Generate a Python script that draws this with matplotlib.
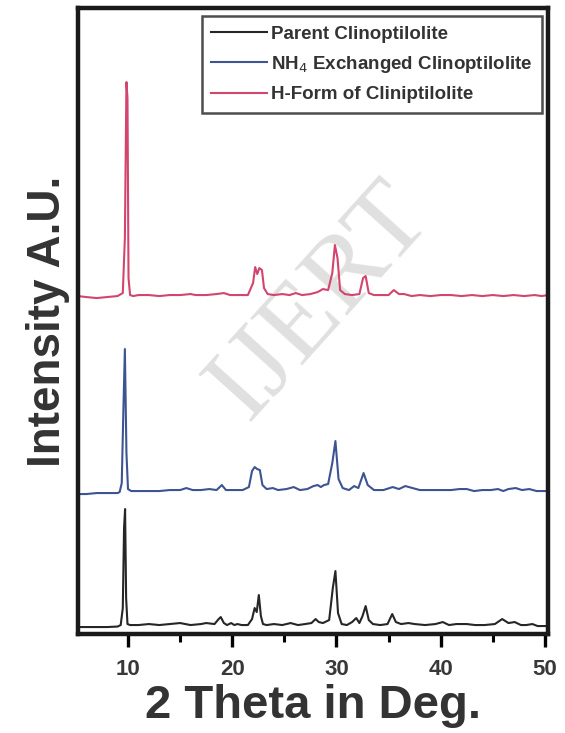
import matplotlib
matplotlib.use("Agg")
from matplotlib import pyplot as plt
from matplotlib.ticker import MultipleLocator
import numpy as np

plt.rcParams['font.family'] = ['Liberation Sans', 'DejaVu Sans']

# XRD patterns (2 theta in deg, intensity above own baseline)
parent_2theta = [5.2, 6, 7, 8, 9, 9.3, 9.5, 9.62, 9.72, 9.82, 9.95, 10.2, 11, 12, 13, 14, 15, 16, 17, 17.5,
                 18.3, 18.7, 18.9, 19.2, 19.5, 19.9, 20.2, 20.5, 20.9, 21.5, 21.9, 22.15, 22.35, 22.55, 22.75,
                 22.95, 23.3, 24, 24.8, 25.6, 26.3, 27, 27.6, 28.0, 28.3, 28.7, 29.3, 29.65, 29.9, 30.15, 30.5,
                 31.0, 31.5, 31.9, 32.2, 32.5, 32.8, 33.1, 33.5, 34.2, 34.9, 35.35, 35.7, 36.2, 36.9, 37.5, 38.5,
                 39.5, 40.2, 40.8, 41.5, 42.5, 43.3, 44.2, 45.2, 45.9, 46.5, 47.1, 47.7, 48.2, 48.8, 49.3, 50.3]
parent_int = [1, 1, 1, 1, 1.5, 3, 20, 100, 119, 30, 4, 3, 3, 4, 3, 4, 5, 3, 4, 5,
              4, 9, 11, 5, 3, 5, 3, 4, 3, 3, 9, 20, 16, 33, 12,
              4, 3, 4, 3, 5, 3, 4, 5, 9, 6, 5, 8, 40, 57, 15, 4,
              3, 6, 10, 5, 12, 22, 8, 4, 3, 4, 14, 6, 4, 5, 4, 3,
              4, 6, 3, 4, 4, 3, 3, 4, 9, 5, 6, 3, 3, 4, 2, 2]

nh4_2theta = [5.2, 6, 7, 8, 9, 9.2, 9.4, 9.55, 9.7, 9.85, 10.0, 10.3, 11, 12, 13, 14, 15, 15.6, 16.2, 17,
              17.8, 18.5, 19.0, 19.4, 20, 21, 21.6, 21.9, 22.15, 22.4, 22.65, 22.9, 23.3, 23.9, 24.4, 25.2,
              25.9, 26.5, 27.2, 27.8, 28.2, 28.5, 28.8, 29.2, 29.6, 29.9, 30.2, 30.6, 31.2, 31.7, 32.1, 32.6,
              33.0, 33.6, 34.5, 35.4, 36.0, 36.6, 37.3, 38, 39, 40, 41, 41.8, 42.5, 43.2, 44, 44.8, 45.5, 46,
              46.5, 47.2, 47.8, 48.5, 49.2, 50.3]
nh4_int = [-1, -1, 0, 0, 0, 1, 10, 80, 144, 40, 4, 2, 2, 2, 2, 3, 3, 5, 3, 3,
           4, 3, 8, 3, 3, 3, 6, 22, 26, 24, 23, 8, 4, 5, 3, 4,
           6, 3, 4, 7, 8, 6, 8, 9, 30, 52, 14, 5, 3, 7, 5, 20,
           8, 3, 3, 6, 4, 7, 5, 3, 3, 3, 3, 4, 4, 2, 3, 3, 4, 2,
           4, 5, 3, 4, 2, 2]

h_2theta = [5.2, 6, 7, 8, 9, 9.5, 9.7, 9.85, 9.95, 10.05, 10.2, 10.5, 11, 12, 13, 14, 15, 16, 16.5, 17.5,
            18.5, 19.2, 19.8, 20.5, 21.5, 22.0, 22.2, 22.4, 22.6, 22.85, 23.05, 23.4, 24, 24.8, 25.5, 26.1,
            26.7, 27.5, 28.2, 28.7, 29.2, 29.6, 29.85, 30.1, 30.35, 30.8, 31.5, 32.2, 32.55, 32.8, 33.1, 33.6,
            34.5, 35.0, 35.5, 36.0, 36.5, 37.2, 38, 39, 40, 41, 42, 43, 44, 45, 46, 47, 48, 49, 49.7, 50.3]
h_int = [2, 1, 0, 1, 2, 5, 60, 216, 200, 20, 3, 2, 3, 3, 2, 3, 3, 4, 3, 3,
         4, 5, 3, 3, 3, 15, 31, 24, 30, 28, 10, 4, 3, 4, 3, 5,
         3, 4, 6, 9, 8, 25, 53, 40, 8, 4, 3, 4, 20, 22, 5, 3,
         3, 3, 8, 4, 4, 2, 3, 2, 3, 3, 2, 3, 2, 3, 2, 3, 2, 3, 2, 3]

labels = ['Parent Clinoptilolite', 'NH$_4$ Exchanged Clinoptilolite', 'H-Form of Cliniptilolite']
offsets = [0, 135, 330]
colors = ['#262626', '#3d5493', '#d2456e']

fig = plt.figure(figsize=(5.65, 7.33), dpi=100)
ax = fig.add_axes([0.138, 0.135, 0.832, 0.854])

series = [(parent_2theta, parent_int), (nh4_2theta, nh4_int), (h_2theta, h_int)]
for (tt, inten), off, c, lab in zip(series, offsets, colors, labels):
    ax.plot(tt, np.array(inten) + off, color=c, lw=1.5, label=lab)

ax.set_xlim(5.2, 50.3)
ax.set_ylim(-6, 620)
ax.xaxis.set_major_locator(MultipleLocator(10))
ax.xaxis.set_minor_locator(MultipleLocator(5))
ax.set_yticks([])
ax.tick_params(axis='x', which='major', direction='out', length=9, width=2.4, labelsize=16,
               labelcolor='#383838', pad=9)
ax.tick_params(axis='x', which='minor', direction='out', length=6, width=2.2)
for lbl in ax.get_xticklabels():
    lbl.set_fontweight('bold')
for s in ax.spines.values():
    s.set_linewidth(3.2)
    s.set_color('#1a1a1a')

ax.set_xlabel('2 Theta in Deg.', fontsize=34, fontweight='bold', color='#333333', labelpad=3)
ax.set_ylabel('Intensity A.U.', fontsize=33, fontweight='bold', color='#333333', labelpad=6)

# faint watermark
ax.text(0.515, 0.53, 'IJERT', transform=ax.transAxes, fontsize=78, family='Liberation Serif',
        color='#e0e0e0', rotation=48, ha='center', va='center', zorder=0)

leg = ax.legend(loc='upper right', bbox_to_anchor=(0.987, 0.987), borderaxespad=0,
                frameon=True, fancybox=False, edgecolor='#222222', handlelength=3.0,
                handletextpad=0.2, borderpad=0.5, labelspacing=0.6,
                prop={'weight': 'bold', 'size': 13.5})
leg.get_frame().set_linewidth(1.8)
for t in leg.get_texts():
    t.set_color('#333333')

fig.savefig('out.png', dpi=100)
